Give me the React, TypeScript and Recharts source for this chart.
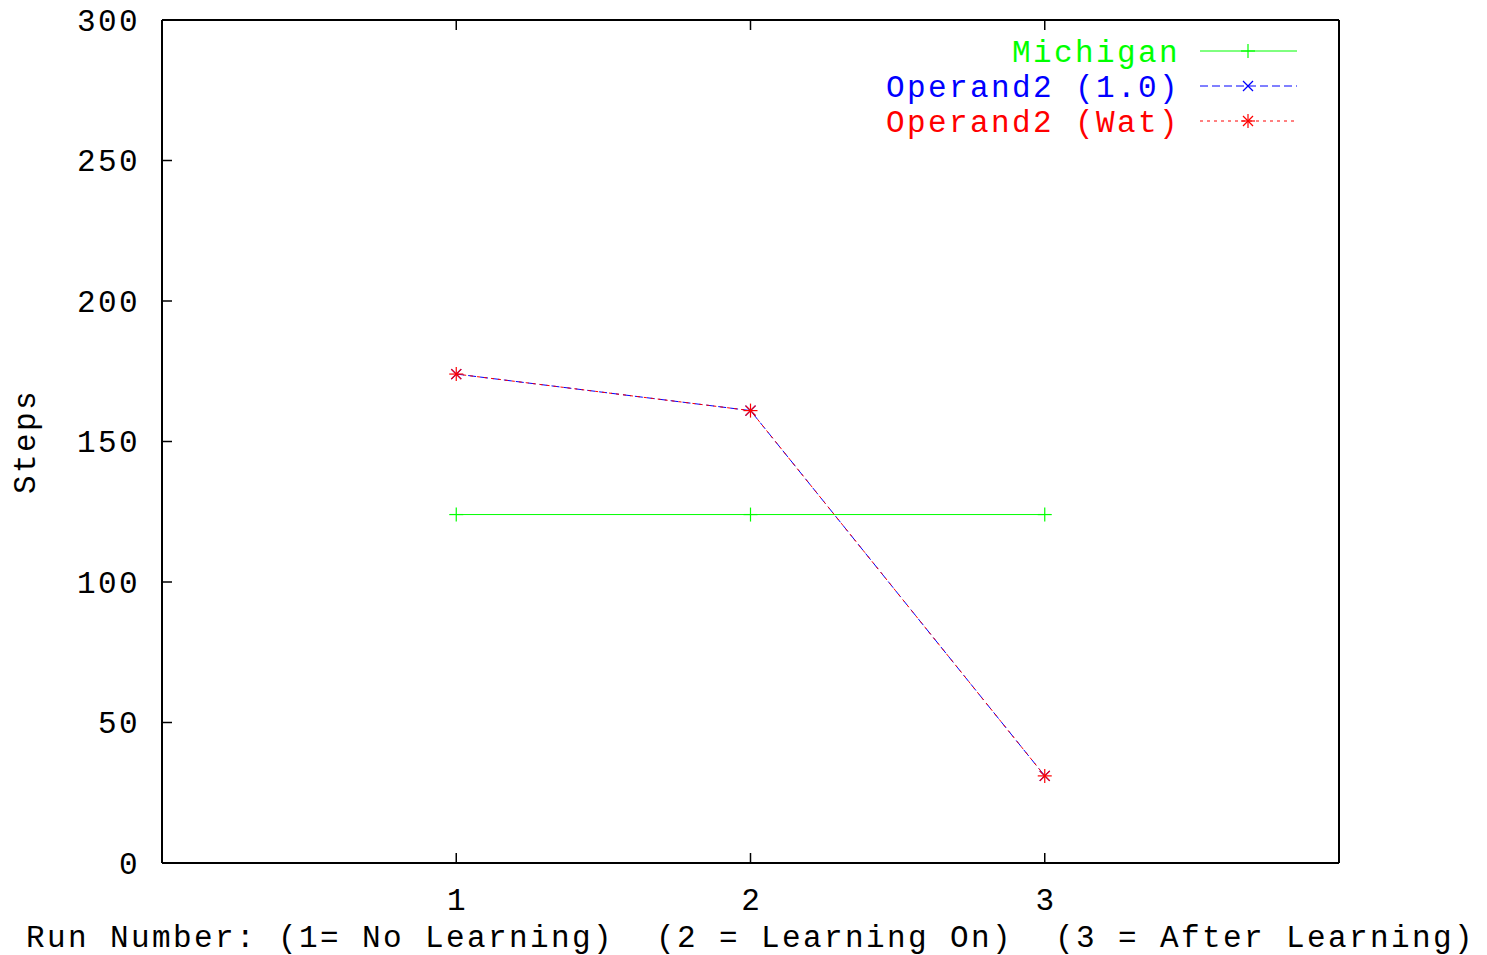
import React from "react";
import {
  LineChart,
  Line,
  XAxis,
  YAxis,
  Legend,
  Label,
} from "recharts";

// data
const runs = [1, 2, 3];
const michigan = [124, 124, 124];
const operandOne = [174, 161, 31];
const operandWat = [174, 161, 31];
const yTicks = [0, 50, 100, 150, 200, 250, 300];
const xTicks = [1, 2, 3];

const data = runs.map((r, i) => ({
  run: r,
  michigan: michigan[i],
  one: operandOne[i],
  wat: operandWat[i],
}));

const FONT = "'Liberation Mono', 'DejaVu Sans Mono', monospace";
const FS = 31;
const LS = 2.4;
const DY = 2;

type Marker = "plus" | "cross" | "star";

const series: { key: string; name: string; color: string; dash?: string; marker: Marker }[] = [
  { key: "michigan", name: "Michigan", color: "#00ff00", marker: "plus" },
  { key: "one", name: "Operand2 (1.0)", color: "#0000ff", dash: "8 4", marker: "cross" },
  { key: "wat", name: "Operand2 (Wat)", color: "#ff0000", dash: "3 4", marker: "star" },
];

const drawMarker = (m: Marker, cx: number, cy: number, color: string, key?: any) => {
  const s = 7;
  const d = 5;
  if (m === "plus")
    return (
      <g key={key}>
        <line x1={cx - s} x2={cx + s} y1={cy} y2={cy} stroke={color} strokeWidth={1.2} />
        <line x1={cx} x2={cx} y1={cy - s} y2={cy + s} stroke={color} strokeWidth={1.2} />
      </g>
    );
  if (m === "cross")
    return (
      <g key={key}>
        <line x1={cx - d} x2={cx + d} y1={cy - d} y2={cy + d} stroke={color} strokeWidth={1.2} />
        <line x1={cx - d} x2={cx + d} y1={cy + d} y2={cy - d} stroke={color} strokeWidth={1.2} />
      </g>
    );
  return (
    <g key={key}>
      <line x1={cx - s} x2={cx + s} y1={cy} y2={cy} stroke={color} strokeWidth={1.2} />
      <line x1={cx} x2={cx} y1={cy - s} y2={cy + s} stroke={color} strokeWidth={1.2} />
      <line x1={cx - d} x2={cx + d} y1={cy - d} y2={cy + d} stroke={color} strokeWidth={1.2} />
      <line x1={cx - d} x2={cx + d} y1={cy + d} y2={cy - d} stroke={color} strokeWidth={1.2} />
    </g>
  );
};

const LeftTick = (props: any) => {
  const { x, y, payload } = props;
  return (
    <g>
      <line x1={x} x2={x + 10} y1={y} y2={y} stroke="#000" strokeWidth={1.5} />
      <text x={x - 22} y={y + DY} textAnchor="end" dominantBaseline="central" fontFamily={FONT} fontSize={FS} letterSpacing={LS} fill="#000">
        {payload.value}
      </text>
    </g>
  );
};

const RightTick = (props: any) => {
  const { x, y } = props;
  return <line x1={x} x2={x - 10} y1={y} y2={y} stroke="#000" strokeWidth={1.5} />;
};

const BottomTick = (props: any) => {
  const { x, y, payload } = props;
  return (
    <g>
      <line x1={x} x2={x} y1={y} y2={y - 10} stroke="#000" strokeWidth={1.5} />
      <text x={x + LS / 2} y={y + 36 + DY} textAnchor="middle" dominantBaseline="central" fontFamily={FONT} fontSize={FS} letterSpacing={LS} fill="#000">
        {payload.value}
      </text>
    </g>
  );
};

const TopTick = (props: any) => {
  const { x, y } = props;
  return <line x1={x} x2={x} y1={y} y2={y + 10} stroke="#000" strokeWidth={1.5} />;
};

const LegendBox = () => (
  <svg width={440} height={110}>
    {series.map((s, i) => {
      const y = 21 + i * 35;
      return (
        <g key={s.key}>
          <text x={310} y={y + DY} textAnchor="end" dominantBaseline="central" fontFamily={FONT} fontSize={FS} letterSpacing={LS} fill={s.color}>
            {s.name}
          </text>
          <line x1={330} x2={427} y1={y} y2={y} stroke={s.color} strokeWidth={1} strokeDasharray={s.dash} />
          {drawMarker(s.marker, 378, y, s.color)}
        </g>
      );
    })}
  </svg>
);

const App = () => {
  return (
    <div style={{ position: "absolute", left: 0, top: 0, width: 1487, height: 955, background: "#fff" }}>
      <LineChart
        width={1487}
        height={955}
        data={data}
        margin={{ top: 19, right: 147, left: 62, bottom: 32 }}
      >
        <XAxis
          xAxisId="b"
          dataKey="run"
          type="number"
          domain={[0, 4]}
          ticks={xTicks}
          orientation="bottom"
          height={60}
          tickSize={0}
          tickMargin={0}
          tickLine={false}
          axisLine={{ stroke: "#000", strokeWidth: 2 }}
          tick={<BottomTick />}
        >
          <Label
            content={({ viewBox }: any) => (
              <text
                x={viewBox.x + viewBox.width / 2}
                y={viewBox.y + 73 + DY}
                textAnchor="middle"
                dominantBaseline="central"
                fontFamily={FONT}
                fontSize={FS}
                letterSpacing={LS}
                fill="#000"
                style={{ whiteSpace: "pre" }}
              >
                {"Run Number: (1= No Learning)  (2 = Learning On)  (3 = After Learning)"}
              </text>
            )}
          />
        </XAxis>
        <XAxis
          xAxisId="t"
          dataKey="run"
          type="number"
          domain={[0, 4]}
          ticks={xTicks}
          orientation="top"
          height={1}
          tickSize={0}
          tickMargin={0}
          tickLine={false}
          axisLine={{ stroke: "#000", strokeWidth: 2 }}
          tick={<TopTick />}
        />
        <YAxis
          yAxisId="l"
          domain={[0, 300]}
          ticks={yTicks}
          width={100}
          tickSize={0}
          tickMargin={0}
          tickLine={false}
          axisLine={{ stroke: "#000", strokeWidth: 2 }}
          tick={<LeftTick />}
        >
          <Label
            content={({ viewBox }: any) => {
              const cx = viewBox.x - 36;
              const cy = viewBox.y + viewBox.height / 2;
              return (
                <text
                  x={cx}
                  y={cy}
                  textAnchor="middle"
                  dominantBaseline="central"
                  transform={`rotate(-90 ${cx} ${cy})`}
                  fontFamily={FONT}
                  fontSize={FS}
                  letterSpacing={LS}
                  fill="#000"
                >
                  Steps
                </text>
              );
            }}
          />
        </YAxis>
        <YAxis
          yAxisId="r"
          orientation="right"
          domain={[0, 300]}
          ticks={yTicks}
          width={1}
          tickSize={0}
          tickMargin={0}
          tickLine={false}
          axisLine={{ stroke: "#000", strokeWidth: 2 }}
          tick={<RightTick />}
        />
        <Legend
          layout="vertical"
          align="center"
          verticalAlign="middle"
          content={() => <LegendBox />}
          wrapperStyle={{ left: 870, top: 30, width: 440, height: 110 }}
        />
        {series.map((s) => (
          <Line
            key={s.key}
            xAxisId="b"
            yAxisId="l"
            type="linear"
            dataKey={s.key}
            name={s.name}
            stroke={s.color}
            strokeWidth={1}
            strokeDasharray={s.dash}
            isAnimationActive={false}
            dot={(p: any) => drawMarker(s.marker, p.cx, p.cy, s.color, `${s.key}-${p.index}`)}
            activeDot={false}
          />
        ))}
      </LineChart>
    </div>
  );
};

export default App;
